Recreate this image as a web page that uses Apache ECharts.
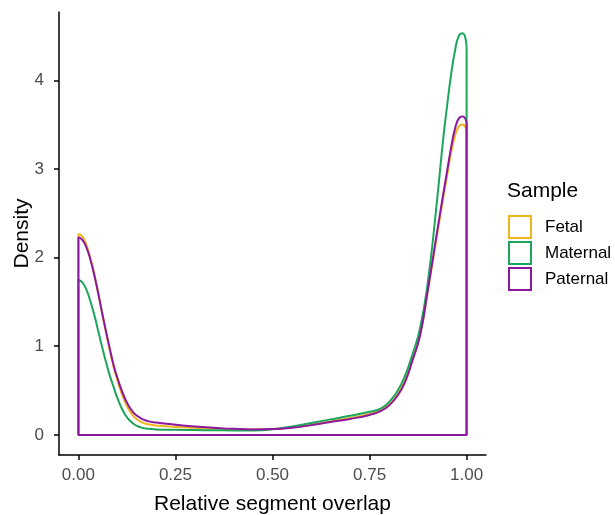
<!DOCTYPE html>
<html>
<head>
<meta charset="utf-8">
<script src="https://cdn.jsdelivr.net/npm/echarts@6/dist/echarts.min.js"></script>
<style>html,body{margin:0;padding:0;background:#fff}#c{width:615px;height:515px}</style>
</head>
<body>
<div id="c"></div>
<script>
const seriesNames = ['Fetal', 'Maternal', 'Paternal'];
const colors = ['#EFB51C', '#1CA65C', '#8C189F'];
const xTicks = [0, 0.25, 0.5, 0.75, 1];
const yTicks = [0, 1, 2, 3, 4];

const xs = [0, 0.01, 0.02, 0.03, 0.04, 0.05, 0.06, 0.07, 0.08, 0.09, 0.10, 0.12, 0.14, 0.16, 0.18, 0.20,
  0.25, 0.30, 0.35, 0.40, 0.45, 0.50, 0.55, 0.60, 0.65, 0.70, 0.75, 0.78, 0.80, 0.82, 0.84, 0.86, 0.88,
  0.90, 0.92, 0.94, 0.95, 0.96, 0.97, 0.98, 0.99, 1.00];

const fetal = [2.27, 2.24, 2.15, 2.01, 1.83, 1.62, 1.40, 1.18, 0.97, 0.78, 0.62, 0.37, 0.22, 0.15, 0.12, 0.105,
  0.09, 0.08, 0.07, 0.063, 0.06, 0.066, 0.085, 0.115, 0.15, 0.19, 0.235, 0.28, 0.34, 0.44, 0.60, 0.84, 1.12,
  1.62, 2.15, 2.68, 2.93, 3.18, 3.37, 3.48, 3.50, 3.42];
const maternal = [1.75, 1.72, 1.645, 1.52, 1.37, 1.19, 1.01, 0.84, 0.68, 0.55, 0.42, 0.23, 0.13, 0.085, 0.068, 0.062,
  0.058, 0.055, 0.052, 0.05, 0.05, 0.062, 0.095, 0.135, 0.175, 0.215, 0.26, 0.30, 0.37, 0.48, 0.65, 0.90, 1.20,
  1.72, 2.48, 3.35, 3.72, 4.06, 4.33, 4.50, 4.53, 4.38];
const paternal = [2.23, 2.20, 2.12, 1.99, 1.82, 1.62, 1.40, 1.19, 0.99, 0.80, 0.65, 0.41, 0.26, 0.19, 0.155, 0.14,
  0.115, 0.095, 0.08, 0.068, 0.062, 0.065, 0.08, 0.11, 0.145, 0.18, 0.225, 0.27, 0.33, 0.43, 0.58, 0.83, 1.12,
  1.63, 2.18, 2.72, 2.98, 3.24, 3.45, 3.57, 3.59, 3.52];

const allValues = [fetal, maternal, paternal];
const font = 'Liberation Sans, Arial, sans-serif';

const series = [];
allValues.forEach((vals, i) => {
  series.push({
    name: seriesNames[i], type: 'line', smooth: 0.5, symbol: 'none',
    data: xs.map((x, k) => [x, vals[k]]),
    lineStyle: { color: colors[i], width: 2 }, itemStyle: { color: colors[i] },
    z: 2 + i, silent: true
  });
  series.push({
    name: seriesNames[i] + '_edge', type: 'line', symbol: 'none',
    data: [[xs[0], vals[0]], [xs[0], 0], [xs[xs.length - 1], 0], [xs[xs.length - 1], vals[vals.length - 1]]],
    lineStyle: { color: colors[i], width: 2 }, itemStyle: { color: colors[i] },
    z: 2 + i, silent: true
  });
});

const chart = echarts.init(document.getElementById('c'), null, { renderer: 'canvas' });
chart.setOption({
  animation: false,
  backgroundColor: '#ffffff',
  textStyle: { fontFamily: font },
  grid: { left: 59, top: 12, right: 129, bottom: 60, containLabel: false, outerBoundsMode: 'none' },
  xAxis: {
    type: 'value', min: -0.05, max: 1.05,
    name: 'Relative segment overlap', nameLocation: 'middle', nameGap: 39, nameMoveOverlap: false,
    nameTextStyle: { fontSize: 21, color: '#000', fontFamily: font },
    axisLine: { show: true, onZero: false, lineStyle: { color: '#000', width: 1.5 } },
    axisTick: { show: true, length: 5, customValues: xTicks, lineStyle: { color: '#000', width: 1.5 } },
    axisLabel: { customValues: xTicks, color: '#4D4D4D', fontSize: 17, margin: 12, fontFamily: font,
      formatter: v => v.toFixed(2) },
    splitLine: { show: false }
  },
  yAxis: {
    type: 'value', min: -0.227, max: 4.77,
    name: 'Density', nameLocation: 'middle', nameGap: 26, nameRotate: 90, nameMoveOverlap: false,
    nameTextStyle: { fontSize: 21, color: '#000', fontFamily: font },
    axisLine: { show: true, onZero: false, lineStyle: { color: '#000', width: 1.5 } },
    axisTick: { show: true, length: 5, customValues: yTicks, lineStyle: { color: '#000', width: 1.5 } },
    axisLabel: { customValues: yTicks, color: '#4D4D4D', fontSize: 17, margin: 15, fontFamily: font },
    splitLine: { show: false }
  },
  legend: {
    orient: 'vertical', left: 508, top: 215, padding: 0, itemWidth: 22, itemHeight: 22, itemGap: 2,
    icon: 'rect',
    textStyle: { fontSize: 17, color: '#000', fontFamily: font, padding: [0, 0, 0, 9] },
    data: seriesNames.map((n, i) => ({
      name: n, icon: 'rect',
      itemStyle: { color: '#fff', borderColor: colors[i], borderWidth: 2 }
    }))
  },
  graphic: [{
    type: 'text', left: 507, top: 181,
    style: { text: 'Sample', fontSize: 21, fill: '#000', fontFamily: font }
  }],
  series: series
});
</script>
</body>
</html>
